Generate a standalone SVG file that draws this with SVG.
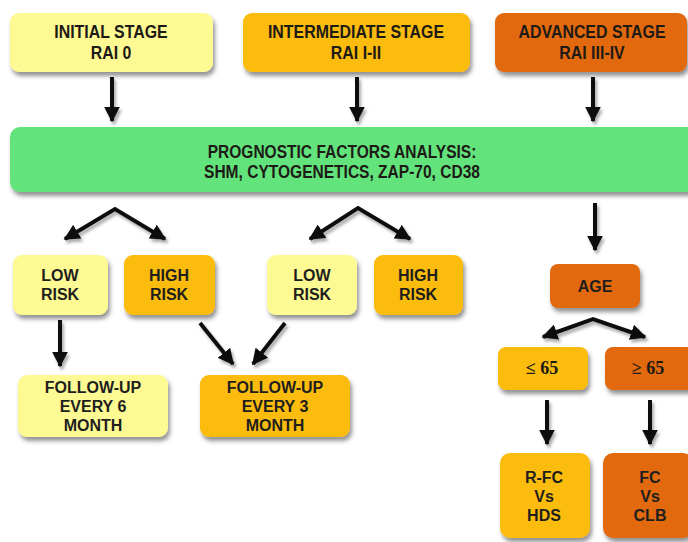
<svg xmlns="http://www.w3.org/2000/svg" width="688" height="542" viewBox="0 0 688 542">
<defs>
<filter id="sh" x="-20%" y="-20%" width="140%" height="150%">
<feDropShadow dx="2" dy="4" stdDeviation="2.2" flood-color="#3a3a3a" flood-opacity="0.55"/>
</filter>
<filter id="ash" x="-50%" y="-50%" width="200%" height="200%">
<feDropShadow dx="2" dy="3" stdDeviation="1.5" flood-color="#555" flood-opacity="0.5"/>
</filter>
<marker id="ah" viewBox="0 0 10 10" refX="9" refY="5" markerUnits="userSpaceOnUse" markerWidth="16" markerHeight="16" orient="auto-start-reverse">
<path d="M0,0 L10,5 L0,10 z" fill="#111"/>
</marker>
</defs>
<style>
.box{filter:url(#sh);}
.ly{fill:#fdfa93;}
.gd{fill:#fbbc0a;}
.or{fill:#e2690e;}
.gr{fill:#62e37c;}
.t{font-family:"Liberation Sans",Arial,sans-serif;font-weight:bold;font-size:16px;fill:#1e1e1e;text-anchor:middle;}
.n{font-family:"Liberation Sans",Arial,sans-serif;font-weight:bold;font-size:18.5px;fill:#1e1a16;text-anchor:middle;}
.s{font-family:"Liberation Serif","Times New Roman",serif;font-weight:bold;font-size:18px;fill:#1e1a16;text-anchor:middle;}
.c line,.c polyline{stroke:#111;stroke-width:4;fill:none;marker-end:url(#ah);}
.c polyline{marker-start:url(#ah);}
.c{filter:url(#ash);}
</style>
<rect width="688" height="542" fill="#ffffff"/>
<g id="initial"><rect class="box ly" x="10" y="13" width="203" height="59" rx="9"/><g transform="translate(111,0) scale(0.86,1)"><text class="n" x="0" y="38">INITIAL STAGE</text><text class="n" x="0" y="59">RAI 0</text></g></g>
<g id="intermediate"><rect class="box gd" x="243" y="13" width="227" height="59" rx="9"/><g transform="translate(356,0) scale(0.86,1)"><text class="n" x="0" y="38">INTERMEDIATE STAGE</text><text class="n" x="0" y="59">RAI I-II</text></g></g>
<g id="advanced"><rect class="box or" x="495" y="13" width="192" height="59" rx="9"/><g transform="translate(592,0) scale(0.86,1)"><text class="n" x="0" y="38">ADVANCED STAGE</text><text class="n" x="0" y="59">RAI III-IV</text></g></g>
<g id="prognostic"><rect class="box gr" x="10" y="127" width="700" height="65" rx="10"/><g transform="translate(342,0) scale(0.84,1)"><text class="n" x="0" y="158" font-size="17.5">PROGNOSTIC FACTORS ANALYSIS:</text><text class="n" x="0" y="178.5" font-size="17.5">SHM, CYTOGENETICS, ZAP-70, CD38</text></g></g>
<g id="low1"><rect class="box ly" x="13" y="255" width="95" height="60" rx="9"/><text class="t" x="60" y="281">LOW</text><text class="t" x="60" y="300">RISK</text></g>
<g id="high1"><rect class="box gd" x="124" y="255" width="91" height="60" rx="9"/><text class="t" x="169" y="281">HIGH</text><text class="t" x="169" y="300">RISK</text></g>
<g id="low2"><rect class="box ly" x="267" y="255" width="90" height="60" rx="9"/><text class="t" x="312" y="281">LOW</text><text class="t" x="312" y="300">RISK</text></g>
<g id="high2"><rect class="box gd" x="374" y="255" width="89" height="60" rx="9"/><text class="t" x="418" y="281">HIGH</text><text class="t" x="418" y="300">RISK</text></g>
<g id="age"><rect class="box or" x="550" y="264" width="90" height="44" rx="8"/><text class="t" x="595" y="292" font-size="15">AGE</text></g>
<g id="le65"><rect class="box gd" x="498" y="347" width="90" height="43" rx="8"/><text class="s" x="542" y="374">≤ 65</text></g>
<g id="ge65"><rect class="box or" x="605" y="347" width="90" height="43" rx="8"/><text class="s" x="648" y="374">≥ 65</text></g>
<g id="fu6"><rect class="box ly" x="18" y="375" width="150" height="62" rx="9"/><text class="t" x="93" y="393">FOLLOW-UP</text><text class="t" x="93" y="412">EVERY 6</text><text class="t" x="93" y="431">MONTH</text></g>
<g id="fu3"><rect class="box gd" x="200" y="375" width="150" height="62" rx="9"/><text class="t" x="275" y="393">FOLLOW-UP</text><text class="t" x="275" y="412">EVERY 3</text><text class="t" x="275" y="431">MONTH</text></g>
<g id="rfc"><rect class="box gd" x="500" y="453" width="90" height="85" rx="10"/><text class="t" x="544" y="483">R-FC</text><text class="t" x="544" y="502">Vs</text><text class="t" x="544" y="521">HDS</text></g>
<g id="fc"><rect class="box or" x="603" y="453" width="90" height="85" rx="10"/><text class="t" x="650" y="483">FC</text><text class="t" x="650" y="502">Vs</text><text class="t" x="650" y="521">CLB</text></g>
<g id="connectors" class="c">
<line x1="112" y1="77" x2="112" y2="121"/>
<line x1="357" y1="77" x2="357" y2="121"/>
<line x1="593" y1="77" x2="593" y2="121"/>
<polyline points="65,239 115,209 165,239"/>
<polyline points="310,239 358,208 410,239"/>
<line x1="595" y1="203" x2="595" y2="250"/>
<polyline points="543,337 593,319 645,337"/>
<line x1="60" y1="320" x2="60" y2="366"/>
<line x1="200" y1="323" x2="233" y2="364"/>
<line x1="285" y1="323" x2="253" y2="364"/>
<line x1="547" y1="400" x2="547" y2="444"/>
<line x1="650" y1="400" x2="650" y2="444"/>
</g>
</svg>
